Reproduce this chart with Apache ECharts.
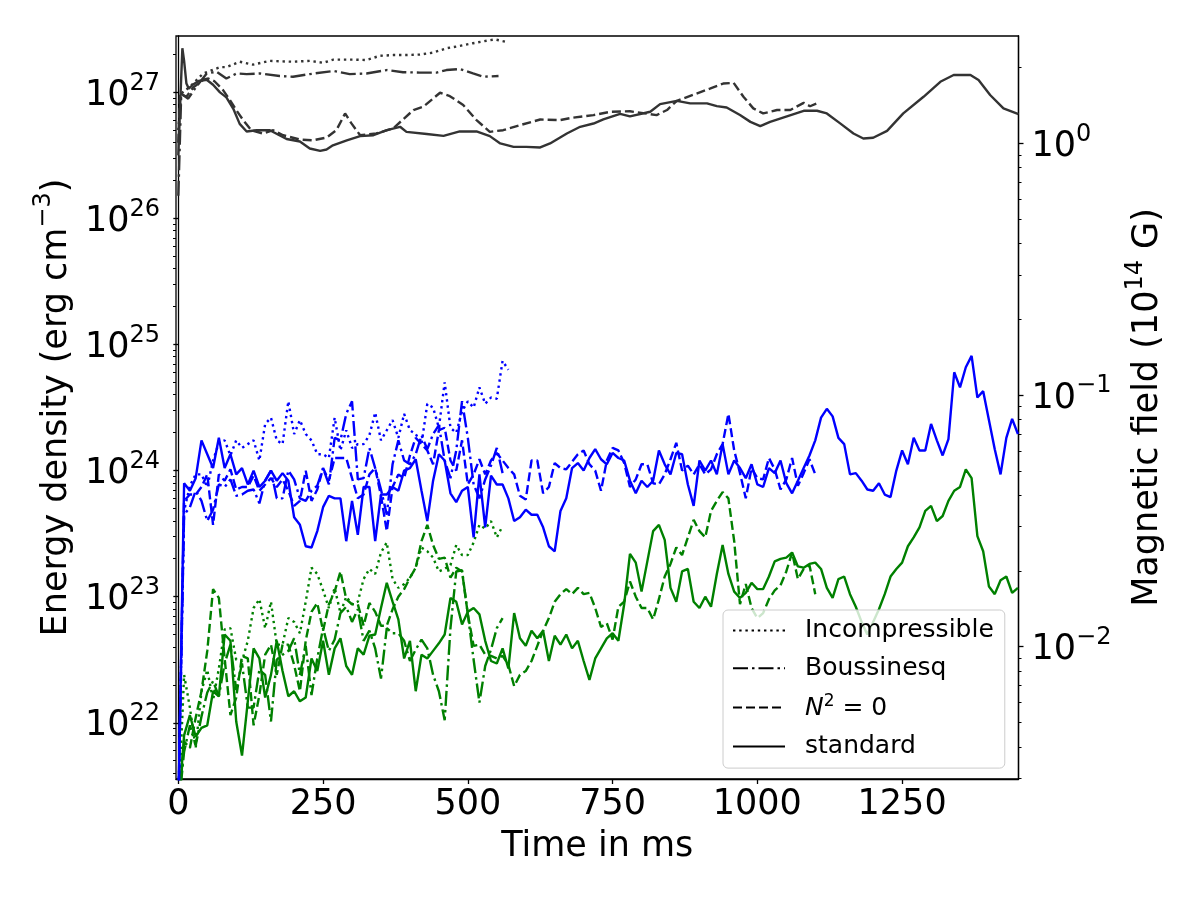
<!DOCTYPE html>
<html lang="en">
<head>
<meta charset="UTF-8">
<title>Energy density and magnetic field</title>
<script src="https://cdn.jsdelivr.net/npm/echarts@6.0.0/dist/echarts.min.js"></script>
<style>
  html, body { margin: 0; padding: 0; background: #fff; }
  #chart { width: 1200px; height: 900px; }
</style>
</head>
<body>
<div id="chart"></div>
<script>
// all values are log10 of the energy density (erg cm^-3)

// grey curves, [time in ms, log10 value]
const greyStandard = [
  [0, 26.5], [4, 27.0], [7, 27.35], [10, 27.25], [14, 27.07], [18, 27.03], [25, 27.06], [35, 27.09], [49, 27.10],
  [60, 27.06], [72, 27.0], [83, 26.96], [95, 26.87], [106, 26.75], [118, 26.69], [135, 26.70], [158, 26.70],
  [187, 26.63], [210, 26.61], [227, 26.555], [245, 26.536], [256, 26.547], [267, 26.58], [291, 26.62], [314, 26.653],
  [337, 26.66], [360, 26.70], [383, 26.727], [394, 26.687], [429, 26.67], [458, 26.655], [486, 26.69], [515, 26.69],
  [538, 26.653], [556, 26.595], [579, 26.568], [601, 26.568], [625, 26.563], [642, 26.595], [671, 26.674],
  [694, 26.727], [717, 26.753], [734, 26.785], [763, 26.83], [780, 26.81], [815, 26.846], [832, 26.907],
  [861, 26.933], [884, 26.913], [913, 26.913], [930, 26.891], [947, 26.88], [970, 26.82], [988, 26.766],
  [1005, 26.732], [1022, 26.766], [1051, 26.81], [1080, 26.854], [1103, 26.854], [1120, 26.833], [1143, 26.754],
  [1166, 26.674], [1183, 26.634], [1200, 26.64], [1224, 26.695], [1252, 26.833], [1287, 26.965], [1316, 27.084],
  [1339, 27.138], [1368, 27.138], [1382, 27.098], [1402, 26.979], [1425, 26.873], [1451, 26.828]
];
const greyNoStrat = [
  [0, 26.6], [3, 26.99], [14, 26.965], [26, 27.04], [43, 27.10], [52, 27.11], [62, 27.09], [77, 27.02], [89, 26.94],
  [100, 26.86], [112, 26.78], [126, 26.70], [146, 26.674], [164, 26.70], [181, 26.66], [210, 26.626], [233, 26.62],
  [256, 26.642], [273, 26.70], [288, 26.833], [299, 26.754], [314, 26.66], [342, 26.674], [371, 26.714],
  [406, 26.86], [423, 26.886], [452, 26.997], [469, 26.97], [492, 26.90], [515, 26.78], [538, 26.687], [561, 26.70],
  [590, 26.74], [625, 26.785], [659, 26.78], [682, 26.80], [717, 26.82], [746, 26.846], [780, 26.85], [826, 26.82],
  [844, 26.86], [861, 26.933], [889, 26.98], [918, 27.03], [941, 27.07], [959, 27.076], [976, 26.965],
  [993, 26.873], [1010, 26.833], [1034, 26.86], [1057, 26.86], [1080, 26.917], [1091, 26.89], [1103, 26.913]
];
const greyIncomp = [
  [0, 26.7], [5, 26.99], [20, 27.045], [43, 27.15], [72, 27.20], [83, 27.20], [106, 27.243], [129, 27.22],
  [158, 27.25], [198, 27.243], [227, 27.25], [250, 27.235], [268, 27.26], [302, 27.26], [325, 27.257], [348, 27.29],
  [371, 27.296], [394, 27.296], [417, 27.30], [440, 27.315], [463, 27.35], [486, 27.368], [509, 27.39],
  [533, 27.41], [547, 27.42], [567, 27.40]
];
const greyBouss = [
  [0, 26.18], [2, 26.5], [5, 26.99], [8, 26.99], [17, 26.95], [31, 27.045], [49, 27.15], [66, 27.164], [83, 27.11],
  [101, 27.15], [118, 27.145], [141, 27.15], [175, 27.13], [198, 27.124], [227, 27.145], [268, 27.17],
  [296, 27.145], [325, 27.15], [360, 27.177], [388, 27.16], [417, 27.157], [446, 27.157], [463, 27.177],
  [486, 27.185], [509, 27.15], [527, 27.124], [553, 27.13]
];

// blue and green curves, one value every dt ms starting at t = 0
const dt = 10;
const blueStandard = [
  21.3, 23.9, 23.84, 23.94, 24.24, 24.13, 24.02, 24.26, 24.02, 24.13,
  23.97, 24.02, 23.89, 24.0, 23.87, 23.92, 24.0, 23.92, 23.98, 23.92,
  23.63, 23.57, 23.4, 23.39, 23.52, 23.71, 23.8, 23.78, 23.78, 23.44,
  23.76, 23.49, 23.87, 23.87, 23.44, 23.81, 23.81, 23.87, 23.84, 24.0,
  24.02, 24.09, 23.84, 23.6, 23.92, 24.13, 24.08, 23.82, 23.75, 23.84,
  23.87, 23.47, 23.97, 23.55, 23.96, 23.89, 23.89, 23.78, 23.6, 23.63,
  23.69, 23.65, 23.65, 23.55, 23.4, 23.36, 23.68, 23.78, 24.02, 24.06,
  24.0, 24.1, 24.17, 24.09, 24.05, 24.14, 24.1, 24.08, 23.92, 23.82,
  23.92, 23.87, 23.92, 24.16, 24.05, 23.97, 24.14, 24.13, 23.89, 23.72,
  24.08, 24.0, 24.08, 23.97, 24.21, 23.97, 24.08, 24.02, 23.94, 24.05,
  23.89, 23.87, 24.02, 23.98, 24.08, 23.9, 23.82, 23.92, 24.02, 24.12,
  24.24, 24.42, 24.49, 24.43, 24.26, 24.21, 23.97, 23.98, 23.92, 23.85,
  23.84, 23.9, 23.81, 23.79, 24.0, 24.16, 24.05, 24.26, 24.16, 24.16,
  24.37, 24.24, 24.12, 24.25, 24.78, 24.66, 24.82, 24.91, 24.58, 24.63,
  24.4, 24.17, 23.97, 24.26, 24.41, 24.29
];
const blueNoStrat = [
  21.3, 23.76, 23.81, 23.81, 23.87, 23.97, 23.57, 23.97, 23.92, 24.01,
  23.85, 23.87, 23.87, 23.96, 23.84, 23.89, 23.94, 23.87, 23.93, 23.84,
  23.72, 23.76, 24.0, 23.76, 23.85, 24.02, 23.92, 24.1, 24.1, 24.1,
  23.94, 23.78, 23.81, 23.97, 24.02, 23.8, 23.52, 23.87, 23.97, 23.94,
  24.12, 24.26, 24.21, 24.16, 24.05, 24.32, 24.34, 24.08, 24.0, 24.24,
  23.89, 23.97, 24.09, 23.97, 24.08, 24.14, 24.08, 24.02, 23.97, 23.8,
  23.77, 24.08, 24.08, 23.82, 23.87, 24.06, 24.02, 24.01, 24.07, 24.13,
  24.16, 24.05, 24.0, 23.84, 24.08, 24.18, 24.16, 24.06, 23.87, 23.93,
  24.05, 24.05, 23.9, 23.89, 23.97, 24.09, 24.22, 24.0, 24.04, 23.97,
  24.05, 23.97, 24.01, 24.13, 24.21, 24.45, 24.16, 23.98, 23.78, 24.02,
  23.94, 23.93, 24.1, 24.01, 23.85, 23.93, 24.1, 23.88, 23.98, 24.09,
  23.97
];
const blueIncomp = [
  21.3, 23.68, 23.88, 23.97, 23.97, 23.87, 24.08, 24.22, 24.24, 24.12,
  24.24, 24.18, 24.21, 24.24, 24.08, 24.37, 24.42, 24.24, 24.21, 24.55,
  24.29, 24.4, 24.29, 24.24, 24.13, 24.13, 24.1, 24.42, 24.16, 24.32,
  24.18, 24.21, 24.21, 24.28, 24.46, 24.24, 24.32, 24.4, 24.26, 24.45,
  24.32, 24.29, 24.21, 24.53, 24.5, 24.34, 24.7, 24.34, 24.3, 24.47,
  24.55, 24.5, 24.66, 24.53, 24.58, 24.57, 24.87, 24.8
];
const blueBouss = [
  21.3, 23.65, 23.71, 23.84, 23.76, 23.6, 23.69, 23.89, 23.87, 23.93,
  23.8, 23.81, 23.84, 23.85, 23.74, 23.92, 24.0, 23.78, 23.78, 24.0,
  23.93, 23.78, 23.76, 23.84, 23.88, 24.02, 23.89, 24.26, 24.24, 24.45,
  24.55, 23.93, 23.94, 24.18, 24.02, 23.85, 23.65, 24.05, 24.24, 24.08,
  24.05, 24.13, 24.28, 24.17, 24.29, 24.36, 24.08, 23.94, 24.16, 24.55,
  24.26, 23.89, 23.78, 23.93, 24.04, 24.18, 23.98
];
const greenStandard = [
  21.3, 21.9, 22.06, 21.89, 21.96, 21.98, 22.25, 22.21, 22.7, 22.65,
  22.01, 21.74, 22.17, 22.59, 22.51, 22.2, 22.38, 22.65, 22.41, 22.21,
  22.25, 22.17, 22.2, 22.51, 22.41, 22.65, 22.38, 22.59, 22.67, 22.45,
  22.38, 22.59, 22.54, 22.69, 22.7, 22.91, 23.11, 22.96, 22.82, 22.51,
  22.65, 22.25, 22.54, 22.51, 22.57, 22.63, 22.7, 22.99, 22.96, 22.78,
  22.88, 22.91, 22.86, 22.65, 22.49, 22.47, 22.59, 22.43, 22.87, 22.67,
  22.61, 22.73, 22.67, 22.73, 22.49, 22.69, 22.62, 22.7, 22.59, 22.65,
  22.49, 22.34, 22.51, 22.59, 22.67, 22.71, 22.65, 22.94, 23.34, 23.27,
  23.04, 23.28, 23.52, 23.57, 23.45, 23.07, 22.96, 23.2, 23.22, 22.96,
  22.91, 23.0, 22.92, 23.18, 23.41, 23.18, 23.04, 22.99, 23.03, 23.11,
  23.06, 23.06, 23.16, 23.28, 23.3, 23.31, 23.35, 23.24, 23.23, 23.26,
  23.27, 23.22, 23.07, 22.99, 23.14, 23.16, 23.02, 22.92, 22.8, 22.7,
  22.8, 22.9, 23.02, 23.16, 23.22, 23.27, 23.4, 23.47, 23.55, 23.68,
  23.72, 23.6, 23.64, 23.76, 23.84, 23.87, 24.01, 23.94, 23.48, 23.36,
  23.08, 23.02, 23.13, 23.16, 23.03, 23.07
];
const greenNoStrat = [
  21.3, 21.85, 21.8, 22.04, 22.25, 22.57, 23.06, 22.99, 22.51, 22.06,
  22.2, 22.53, 22.51, 21.98, 22.22, 22.54, 22.62, 22.38, 22.62, 22.62,
  22.46, 22.25, 22.65, 22.88, 22.95, 22.73, 22.94, 23.04, 23.2, 22.98,
  22.94, 22.94, 22.77, 22.95, 22.88, 22.77, 22.77, 22.9, 23.0, 23.06,
  23.15, 23.23, 23.44, 23.57, 23.41, 23.3, 23.31, 23.15, 23.23, 23.2,
  22.86, 22.61, 22.62, 22.54, 22.53, 22.51, 22.53, 22.46, 22.29, 22.38,
  22.41, 22.49, 22.61, 22.73, 22.83, 22.96, 23.02, 23.06, 23.02, 23.07,
  23.02, 23.03, 22.91, 22.76, 22.79, 22.66, 22.92, 22.96, 23.12, 23.0,
  22.91, 22.91, 22.82, 22.98, 23.16, 23.26, 23.39, 23.33, 23.47, 23.61,
  23.52, 23.47, 23.68, 23.76, 23.83, 23.78, 23.44, 22.94, 23.1, 22.91,
  22.83, 22.87, 22.98, 23.05, 23.09, 23.2, 23.35, 23.14, 23.22, 23.25,
  23.02
];
const greenIncomp = [
  21.3, 22.38, 22.12, 21.8, 22.25, 22.42, 22.18, 22.43, 22.74, 22.75,
  22.5, 22.49, 22.65, 22.91, 22.98, 22.75, 22.96, 22.62, 22.62, 22.83,
  22.8, 22.71, 22.96, 23.23, 23.18, 23.05, 22.91, 23.07, 22.87, 23.0,
  22.94, 22.96, 23.14, 23.22, 23.18, 23.35, 23.43, 23.14, 23.07, 23.1,
  23.15, 23.23, 23.39, 23.36, 23.31, 23.2, 23.22, 23.25, 23.41, 23.33,
  23.33, 23.43, 23.57, 23.54, 23.6, 23.47, 23.56
];
const greenBouss = [
  21.3, 21.77, 21.98, 21.82, 22.05, 22.24, 22.33, 22.21, 22.47, 22.62,
  22.26, 22.47, 22.12, 22.12, 22.42, 22.38, 22.01, 22.5, 22.54, 22.57,
  22.67, 22.38, 22.61, 22.22, 22.51, 22.75, 22.57, 22.66, 22.87, 22.92,
  22.8, 22.9, 22.65, 22.73, 22.59, 22.35, 22.75, 22.71, 22.71, 22.65,
  22.49, 22.58, 22.66, 22.59, 22.38, 22.25, 22.02, 22.75, 23.2, 23.21,
  22.86, 22.5, 22.16, 22.45, 22.58, 22.75, 22.83
];

const xTicks = [0, 250, 500, 750, 1000, 1250];
const leftTicks = [1e22, 1e23, 1e24, 1e25, 1e26, 1e27];
const rightTicks = [1e-2, 1e-1, 1];
const legendNames = ['Incompressible', 'Boussinesq', 'N2', 'standard'];

const FONT = 'DejaVu Sans';
const leftMin = 3.58e21, leftMax = 2.8e27;
const rightMin = 2.98e-3, rightMax = 2.67;

// matplotlib-like line styles
const dashes = {
  Incompressible: [2.4, 3.8],
  Boussinesq: [15, 4, 2.5, 4],
  N2: [9, 4],
  standard: 'solid'
};

function minorTicks(lo, hi) {
  const out = [];
  for (let e = Math.floor(Math.log10(lo)); e <= Math.ceil(Math.log10(hi)); e++) {
    for (let k = 2; k <= 9; k++) {
      const v = k * Math.pow(10, e);
      if (v >= lo && v <= hi) out.push(v);
    }
  }
  return out;
}

function supLabel(v) {
  const e = Math.round(Math.log10(v));
  return '{b|10}{sup|' + (e < 0 ? '\u2212' + (-e) : e) + '}';
}

const supRich = {
  b: { fontSize: 35, lineHeight: 42, verticalAlign: 'bottom', fontFamily: FONT, color: '#000' },
  sup: { fontSize: 24, lineHeight: 18, verticalAlign: 'top', fontFamily: FONT, color: '#000' }
};

function curve(name, color, pts) {
  return {
    name: name,
    type: 'line',
    data: pts,
    symbol: 'none',
    showSymbol: false,
    animation: false,
    clip: true,
    lineStyle: { color: color, width: 2.4, type: dashes[name] },
    itemStyle: { color: color }
  };
}
const fromPairs = arr => arr.map(p => [p[0], Math.pow(10, p[1])]);
const fromGrid = arr => arr.map((v, i) => [i * dt, Math.pow(10, v)]);

const GREY = '#333333', BLUE = '#0000ff', GREEN = '#008000';

const series = [
  curve('Incompressible', GREEN, fromGrid(greenIncomp)),
  curve('Boussinesq', GREEN, fromGrid(greenBouss)),
  curve('N2', GREEN, fromGrid(greenNoStrat)),
  curve('standard', GREEN, fromGrid(greenStandard)),
  curve('Incompressible', BLUE, fromGrid(blueIncomp)),
  curve('Boussinesq', BLUE, fromGrid(blueBouss)),
  curve('N2', BLUE, fromGrid(blueNoStrat)),
  curve('standard', BLUE, fromGrid(blueStandard)),
  curve('Incompressible', GREY, fromPairs(greyIncomp)),
  curve('Boussinesq', GREY, fromPairs(greyBouss)),
  curve('N2', GREY, fromPairs(greyNoStrat)),
  curve('standard', GREY, fromPairs(greyStandard))
];
// data series get their own names so the legend only sees the black key entries
series.forEach((s, i) => { s.name = s.name + ' #' + i; });
legendNames.forEach(n => {
  series.push({
    name: n, type: 'line', data: [], symbol: 'none', animation: false,
    lineStyle: { color: '#000', width: 1.8, type: dashes[n] },
    itemStyle: { color: '#000' }
  });
});

const axisLineStyle = { color: '#000', width: 1.3 };

const option = {
  backgroundColor: '#fff',
  animation: false,
  grid: {
    left: 176, right: 181.5, top: 36, bottom: 121,
    show: true, borderColor: '#000', borderWidth: 1.3
  },
  legend: {
    data: legendNames,
    orient: 'vertical',
    left: 723, top: 610,
    itemWidth: 52, itemHeight: 25, itemGap: 12.7,
    padding: [8, 11, 9, 9],
    backgroundColor: 'rgba(255,255,255,0.8)',
    borderColor: '#cccccc', borderWidth: 1, borderRadius: 5,
    selectedMode: false,
    itemStyle: { opacity: 0, borderWidth: 0 },
    formatter: n => n === 'N2' ? '{it|N}{sp|2}{t| = 0}' : n,
    textStyle: {
      fontSize: 25, fontFamily: FONT, color: '#000', padding: [0, 0, 0, 15],
      rich: {
        it: { fontSize: 25, fontStyle: 'italic', fontFamily: FONT, color: '#000', lineHeight: 28, verticalAlign: 'bottom' },
        sp: { fontSize: 17, fontFamily: FONT, color: '#000', lineHeight: 14, verticalAlign: 'top' },
        t: { fontSize: 25, fontFamily: FONT, color: '#000', lineHeight: 28, verticalAlign: 'bottom' }
      }
    }
  },
  xAxis: {
    type: 'value', min: -4, max: 1451,
    axisLine: { onZero: false, lineStyle: axisLineStyle },
    axisTick: { customValues: xTicks, length: 5, lineStyle: axisLineStyle },
    axisLabel: {
      customValues: xTicks, formatter: v => String(v),
      fontSize: 35, fontFamily: FONT, color: '#000', margin: 8
    },
    splitLine: { show: false },
    name: 'Time in ms', nameLocation: 'middle', nameGap: 50,
    nameTextStyle: { fontSize: 35, fontFamily: FONT, color: '#000' }
  },
  yAxis: [
    {
      type: 'log', logBase: 10, min: leftMin, max: leftMax, position: 'left',
      axisLine: { show: true, lineStyle: axisLineStyle },
      axisTick: { customValues: leftTicks, length: 5, lineStyle: axisLineStyle },
      axisLabel: { customValues: leftTicks, formatter: supLabel, rich: supRich, margin: 16 },
      splitLine: { show: false },
      name: '{n|Energy density (erg cm}{s|\u22123}{n|)}',
      nameLocation: 'middle', nameRotate: 90, nameGap: 100,
      nameTextStyle: {
        rich: {
          n: { fontSize: 35, lineHeight: 42, verticalAlign: 'bottom', fontFamily: FONT, color: '#000' },
          s: { fontSize: 24, lineHeight: 18, verticalAlign: 'top', fontFamily: FONT, color: '#000' }
        }
      }
    },
    {
      type: 'log', logBase: 10, min: leftMin, max: leftMax, position: 'left',
      axisLine: { show: false },
      axisTick: { customValues: minorTicks(leftMin, leftMax), length: 3, lineStyle: { color: '#000', width: 1 } },
      axisLabel: { show: false },
      splitLine: { show: false }
    },
    {
      type: 'log', logBase: 10, min: rightMin, max: rightMax, position: 'right',
      axisLine: { show: true, lineStyle: axisLineStyle },
      axisTick: { customValues: rightTicks, length: 5, lineStyle: axisLineStyle },
      axisLabel: { customValues: rightTicks, formatter: supLabel, rich: supRich, margin: 13 },
      splitLine: { show: false },
      name: '{n|Magnetic field (10}{s|14}{n| G)}',
      nameLocation: 'middle', nameRotate: 90, nameGap: 105,
      nameTextStyle: {
        rich: {
          n: { fontSize: 35, lineHeight: 42, verticalAlign: 'bottom', fontFamily: FONT, color: '#000' },
          s: { fontSize: 24, lineHeight: 18, verticalAlign: 'top', fontFamily: FONT, color: '#000' }
        }
      }
    },
    {
      type: 'log', logBase: 10, min: rightMin, max: rightMax, position: 'right',
      axisLine: { show: false },
      axisTick: { customValues: minorTicks(rightMin, rightMax), length: 3, lineStyle: { color: '#000', width: 1 } },
      axisLabel: { show: false },
      splitLine: { show: false }
    }
  ],
  series: series
};

const chart = echarts.init(document.getElementById('chart'), null, { renderer: 'canvas' });
chart.setOption(option);
</script>
</body>
</html>
